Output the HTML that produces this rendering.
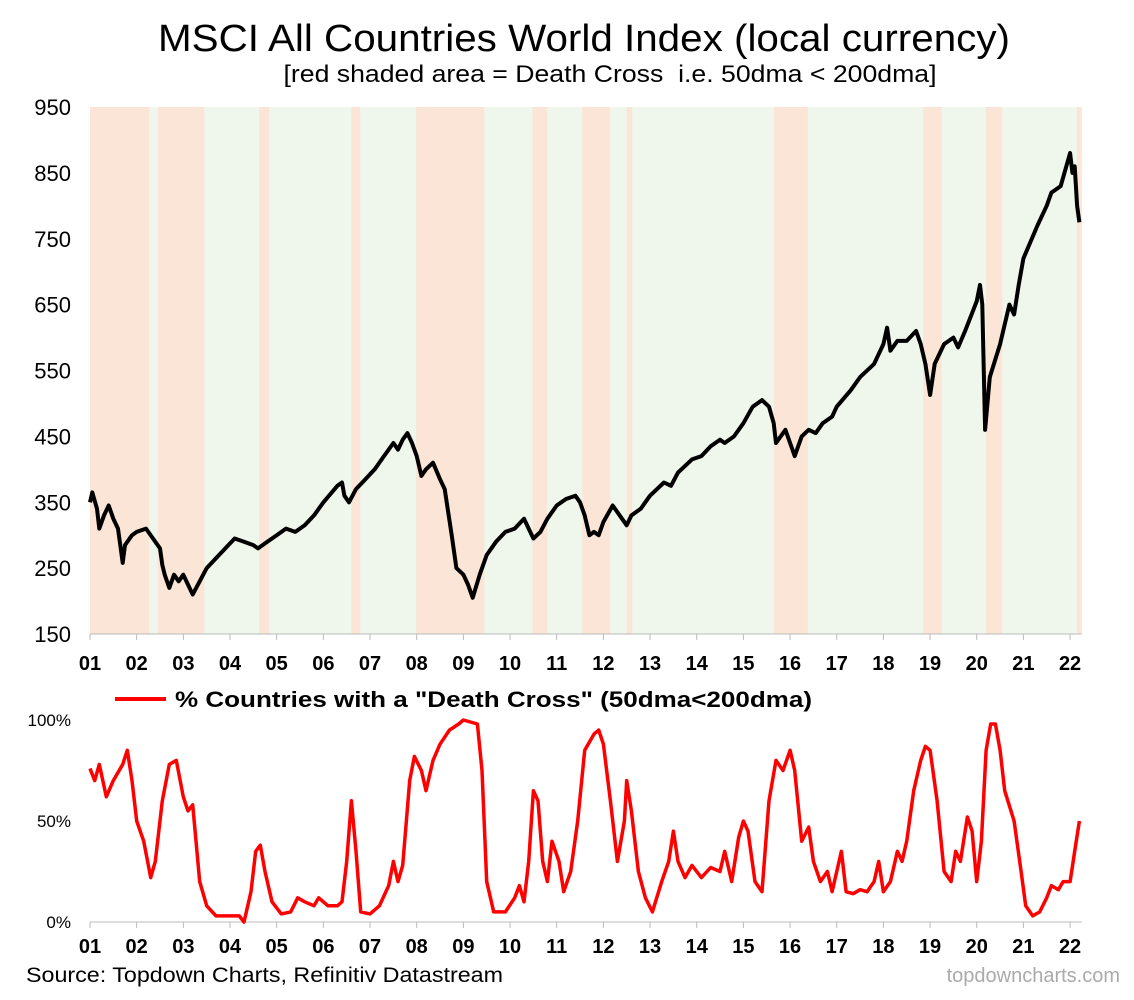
<!DOCTYPE html>
<html><head><meta charset="utf-8"><style>
body{margin:0;background:#fff;font-family:"Liberation Sans",Arial,sans-serif}
svg{display:block}
</style></head><body>
<svg id="c" width="1134" height="1000" viewBox="0 0 1134 1000">
<text x="584" y="51" text-anchor="middle" font-size="38" textLength="852" lengthAdjust="spacingAndGlyphs">MSCI All Countries World Index (local currency)</text>
<text x="610" y="82" text-anchor="middle" font-size="24" textLength="653" lengthAdjust="spacingAndGlyphs">[red shaded area = Death Cross&#160; i.e. 50dma &lt; 200dma]</text>
<g id="shade"></g>
<g id="topPanel"></g>
<g id="botPanel"></g>
<line x1="115" y1="699" x2="166" y2="699" stroke="#f00" stroke-width="4"/>
<text x="175" y="707" font-size="22" font-weight="bold" textLength="637" lengthAdjust="spacingAndGlyphs">% Countries with a "Death Cross" (50dma&lt;200dma)</text>
<text x="26" y="982" font-size="21" textLength="477" lengthAdjust="spacingAndGlyphs">Source: Topdown Charts, Refinitiv Datastream</text>
<text x="1120" y="982" text-anchor="end" font-size="20" fill="#aaa">topdowncharts.com</text>
</svg>
<script>
const yearTicks=["01","02","03","04","05","06","07","08","09","10","11","12","13","14","15","16","17","18","19","20","21","22"];
const topTicks=[150,250,350,450,550,650,750,850,950];
const botTicks=[0,50,100];
const botTickLabels=["0%","50%","100%"];
const deathCross=[[2001.0,2002.27],[2002.45,2003.45],[2004.62,2004.84],[2006.6,2006.79],[2007.99,2009.45],[2010.48,2010.8],[2011.55,2012.15],[2012.5,2012.62],[2015.65,2016.38],[2018.85,2019.25],[2020.2,2020.55],[2022.15,2022.25]];
const idxYears=[2001.0,2001.05,2001.15,2001.2,2001.3,2001.4,2001.5,2001.6,2001.7,2001.75,2001.9,2002.0,2002.2,2002.35,2002.5,2002.55,2002.6,2002.7,2002.8,2002.9,2003.0,2003.1,2003.2,2003.35,2003.5,2003.7,2003.9,2004.1,2004.3,2004.5,2004.6,2004.8,2005.0,2005.2,2005.4,2005.6,2005.8,2006.0,2006.3,2006.4,2006.45,2006.55,2006.7,2006.9,2007.1,2007.3,2007.5,2007.6,2007.7,2007.8,2007.9,2008.0,2008.1,2008.2,2008.35,2008.5,2008.6,2008.75,2008.85,2009.0,2009.1,2009.2,2009.35,2009.5,2009.7,2009.9,2010.1,2010.3,2010.4,2010.5,2010.65,2010.8,2011.0,2011.2,2011.4,2011.5,2011.6,2011.7,2011.8,2011.9,2012.0,2012.2,2012.4,2012.5,2012.6,2012.8,2013.0,2013.3,2013.45,2013.6,2013.9,2014.1,2014.3,2014.5,2014.6,2014.8,2015.0,2015.2,2015.4,2015.55,2015.65,2015.7,2015.9,2016.0,2016.1,2016.25,2016.4,2016.55,2016.7,2016.9,2017.0,2017.3,2017.5,2017.8,2018.0,2018.08,2018.15,2018.3,2018.5,2018.7,2018.8,2018.9,2019.0,2019.1,2019.3,2019.5,2019.6,2019.75,2020.0,2020.07,2020.12,2020.18,2020.28,2020.5,2020.7,2020.8,2020.9,2021.0,2021.3,2021.5,2021.6,2021.8,2021.9,2022.0,2022.05,2022.1,2022.15,2022.2];
const idxValues=[350,365,340,310,330,345,325,310,258,285,300,305,310,295,280,255,240,220,240,230,240,225,210,230,250,265,280,295,290,285,280,290,300,310,305,315,330,350,375,380,360,350,370,385,400,420,440,430,445,455,440,420,390,400,410,385,370,300,250,240,225,205,240,270,290,305,310,325,310,295,305,325,345,355,360,350,330,300,305,300,320,345,325,315,330,340,360,380,375,395,415,420,435,445,440,450,470,495,505,495,470,440,460,440,420,450,460,455,470,480,495,520,540,560,590,615,580,595,595,610,590,560,513,560,590,600,585,610,655,680,650,460,540,590,650,635,680,720,770,800,820,830,855,880,850,860,800,775];
const pctYears=[2001.0,2001.1,2001.2,2001.35,2001.5,2001.7,2001.8,2001.9,2002.0,2002.15,2002.3,2002.4,2002.55,2002.7,2002.85,2003.0,2003.1,2003.2,2003.35,2003.5,2003.7,2004.0,2004.2,2004.3,2004.45,2004.55,2004.65,2004.75,2004.9,2005.1,2005.3,2005.45,2005.6,2005.8,2005.9,2006.1,2006.3,2006.4,2006.5,2006.6,2006.7,2006.8,2007.0,2007.2,2007.4,2007.5,2007.6,2007.7,2007.85,2007.95,2008.1,2008.2,2008.35,2008.5,2008.7,2008.9,2009.0,2009.3,2009.4,2009.5,2009.65,2009.9,2010.1,2010.2,2010.3,2010.4,2010.5,2010.6,2010.7,2010.8,2010.9,2011.05,2011.15,2011.3,2011.45,2011.6,2011.8,2011.9,2012.0,2012.15,2012.3,2012.45,2012.5,2012.6,2012.75,2012.9,2013.05,2013.25,2013.4,2013.5,2013.6,2013.75,2013.9,2014.1,2014.3,2014.5,2014.6,2014.75,2014.9,2015.0,2015.1,2015.25,2015.4,2015.55,2015.7,2015.85,2016.0,2016.1,2016.25,2016.4,2016.5,2016.65,2016.8,2016.9,2017.1,2017.2,2017.35,2017.5,2017.65,2017.8,2017.9,2018.0,2018.15,2018.3,2018.4,2018.5,2018.65,2018.8,2018.9,2019.0,2019.15,2019.3,2019.45,2019.55,2019.65,2019.8,2019.9,2020.0,2020.1,2020.2,2020.3,2020.4,2020.5,2020.6,2020.8,2020.95,2021.05,2021.2,2021.35,2021.5,2021.6,2021.75,2021.85,2022.0,2022.1,2022.2];
const pctValues=[76,70,78,62,70,78,85,70,50,40,22,30,60,78,80,62,55,58,20,8,3,3,3,0,15,35,38,25,10,4,5,12,10,8,12,8,8,10,30,60,35,5,4,8,18,30,20,28,70,82,75,65,80,88,95,98,100,98,75,20,5,5,12,18,10,30,65,60,30,20,40,30,15,25,50,85,93,95,88,60,30,50,70,55,25,12,5,20,30,45,30,22,28,22,27,25,35,20,42,50,45,20,15,60,80,75,85,75,40,47,30,20,25,15,35,15,14,16,15,20,30,15,20,35,30,40,65,80,87,85,60,25,20,35,30,52,45,20,40,85,98,98,85,65,50,25,8,3,5,12,18,16,20,20,35,50];

const NS="http://www.w3.org/2000/svg";
const X0=90,YW=46.67;
const xs=y=>X0+(y-2001)*YW;
const T0=107,T1=634; const ty=v=>T1-(v-150)/800*(T1-T0);
const B0=720,B1=922; const by=v=>B1-v/100*(B1-B0);
function mk(tag,attrs,parent){const e=document.createElementNS(NS,tag);for(const k in attrs)e.setAttribute(k,attrs[k]);parent.appendChild(e);return e;}
const shadeG=document.getElementById('shade'),topG=document.getElementById('topPanel'),botG=document.getElementById('botPanel');
const xEnd=xs(2022.25);
const bg=mk('rect',{x:X0,y:T0,width:xEnd-X0,height:T1-T0,fill:'#eff7ec'},shadeG);


deathCross.forEach(d=>{const r=mk('rect',{x:xs(d[0]),y:T0,width:xs(d[1])-xs(d[0]),height:T1-T0,fill:'#fbe5d6'},shadeG);

});
topTicks.forEach(v=>{const t=mk('text',{x:71,y:ty(v)+8,'text-anchor':'end','font-size':22},topG);t.textContent=v;

});
const ax=mk('line',{x1:X0,y1:T1,x2:xEnd,y2:T1,stroke:'#bbb','stroke-width':1},topG);


yearTicks.forEach((l,i)=>{const x=xs(2001+i);
const tk=mk('line',{x1:x,y1:T1,x2:x,y2:T1+6,stroke:'#bbb'},topG);


const t=mk('text',{x:x,y:670,'text-anchor':'middle','font-size':20,'font-weight':'bold'},topG);t.textContent=l;


const tk2=mk('line',{x1:x,y1:B1,x2:x,y2:B1+6,stroke:'#bbb'},botG);


const t2=mk('text',{x:x,y:953,'text-anchor':'middle','font-size':20,'font-weight':'bold'},botG);t2.textContent=l;

});
const p1=mk('polyline',{points:idxYears.map((y,i)=>xs(y).toFixed(1)+','+ty(idxValues[i]).toFixed(1)).join(' '),fill:'none',stroke:'#000','stroke-width':4,'stroke-linejoin':'round'},topG);


botTicks.forEach((v,i)=>{const t=mk('text',{x:71,y:by(v)+6,'text-anchor':'end','font-size':17},botG);t.textContent=botTickLabels[i];

});
const ax2=mk('line',{x1:X0,y1:B1,x2:xEnd,y2:B1,stroke:'#bbb'},botG);


const p2=mk('polyline',{points:pctYears.map((y,i)=>xs(y).toFixed(1)+','+by(pctValues[i]).toFixed(1)).join(' '),fill:'none',stroke:'#f00','stroke-width':3.5,'stroke-linejoin':'round'},botG);


</script>
</body></html>
